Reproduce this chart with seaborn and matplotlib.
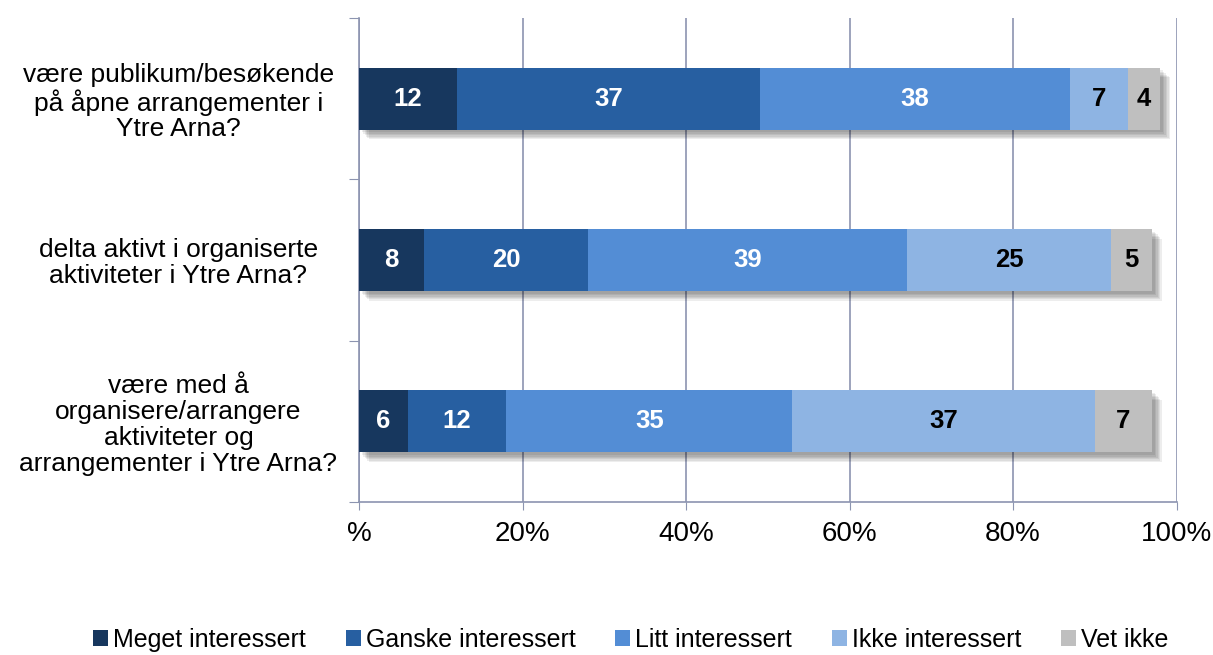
import numpy as np
import pandas as pd
import matplotlib
matplotlib.use("Agg")
import matplotlib.pyplot as plt
import matplotlib.patheffects as pe
from matplotlib.patches import Patch
from matplotlib import font_manager
import seaborn as sns

categories = [
    "være publikum/besøkende\npå åpne arrangementer i\nYtre Arna?",
    "delta aktivt i organiserte\naktiviteter i Ytre Arna?",
    "være med å\norganisere/arrangere\naktiviteter og\narrangementer i Ytre Arna?",
]
series = ["Meget interessert", "Ganske interessert", "Litt interessert", "Ikke interessert", "Vet ikke"]
meget = [12, 8, 6]
ganske = [37, 20, 12]
litt = [38, 39, 35]
ikke = [7, 25, 37]
vet = [4, 5, 7]
xtick_labels = ["%", "20%", "40%", "60%", "80%", "100%"]

colors = ["#17375E", "#275FA1", "#538DD5", "#8EB4E3", "#BFBFBF"]
label_colors = ["white", "white", "white", "black", "black"]

sns.set_style("white")
plt.rcParams["font.family"] = ["Liberation Sans", "DejaVu Sans"]
plt.rcParams["text.color"] = "black"
plt.rcParams["xtick.color"] = "black"
plt.rcParams["ytick.color"] = "black"

values = np.array([meget, ganske, litt, ikke, vet], dtype=float)
cum = np.cumsum(values, axis=0)
df = pd.DataFrame({"cat": categories})
for i, s in enumerate(series):
    df[s] = cum[i]

fig = plt.figure(figsize=(12.13, 6.55), dpi=100)
ax = fig.add_axes([0.296, 0.2336, 0.674, 0.739])

gridc = "#8C94B0"
bw = 0.385
for i in reversed(range(len(series))):
    sns.barplot(data=df, x=series[i], y="cat", color=colors[i], width=bw,
                orient="h", saturation=1, errorbar=None, ax=ax, zorder=3,
                linewidth=0, edgecolor="none")
# soft shadow for the full (first drawn) bars
shadow = [pe.SimplePatchShadow(offset=(k, -k), shadow_rgbFace="#000000", alpha=0.07)
          for k in (7, 6, 5, 4, 3, 2)]
for p in ax.patches[:len(categories)]:
    p.set_path_effects(shadow + [pe.Normal()])

for j in range(len(categories)):
    start = 0
    for i in range(len(series)):
        v = values[i, j]
        ax.text(start + v / 2, j, f"{int(v)}", ha="center", va="center",
                color=label_colors[i], fontsize=18.5, fontweight="bold", zorder=5)
        start += v

ax.set_xlim(0, 100)
ax.set_ylim(2.5, -0.5)
ax.set_xticks(np.arange(0, 101, 20))
ax.set_xticklabels(xtick_labels, fontsize=20)
ax.set_xlabel("")
ax.set_ylabel("")
ax.set_yticks([-0.5, 0.5, 1.5, 2.5])
ax.set_yticklabels([])
ax.set_yticks([0, 1, 2], minor=True)
ax.set_yticklabels(categories, minor=True, fontsize=19, ha="center", multialignment="center",
                   linespacing=1.1)
ax.tick_params(axis="y", which="minor", length=0, pad=130)
ax.tick_params(axis="y", which="major", length=7, color=gridc, direction="out", left=True)
ax.tick_params(axis="x", length=6, color=gridc, direction="out", bottom=True, pad=8)
ax.grid(axis="x", color=gridc, linewidth=1.2, zorder=0)
ax.set_axisbelow(True)
for s in ["top", "right"]:
    ax.spines[s].set_visible(False)
for s in ["left", "bottom"]:
    ax.spines[s].set_color(gridc)
    ax.spines[s].set_linewidth(1.2)

narrow = None
for f in font_manager.fontManager.ttflist:
    if "Narrow" in f.name and "Liberation" in f.name:
        narrow = f.name
        break
handles = [Patch(facecolor=c, edgecolor="none") for c in colors]
leg_font = {"family": narrow, "size": 20} if narrow else {"size": 18}
fig.legend(handles, series, loc="center", bbox_to_anchor=(0.52, 0.023), ncol=5, frameon=False,
           prop=leg_font, handlelength=0.6, handleheight=0.6, handletextpad=0.2,
           columnspacing=1.6, borderaxespad=0)

fig.savefig("out.png", dpi=100)
